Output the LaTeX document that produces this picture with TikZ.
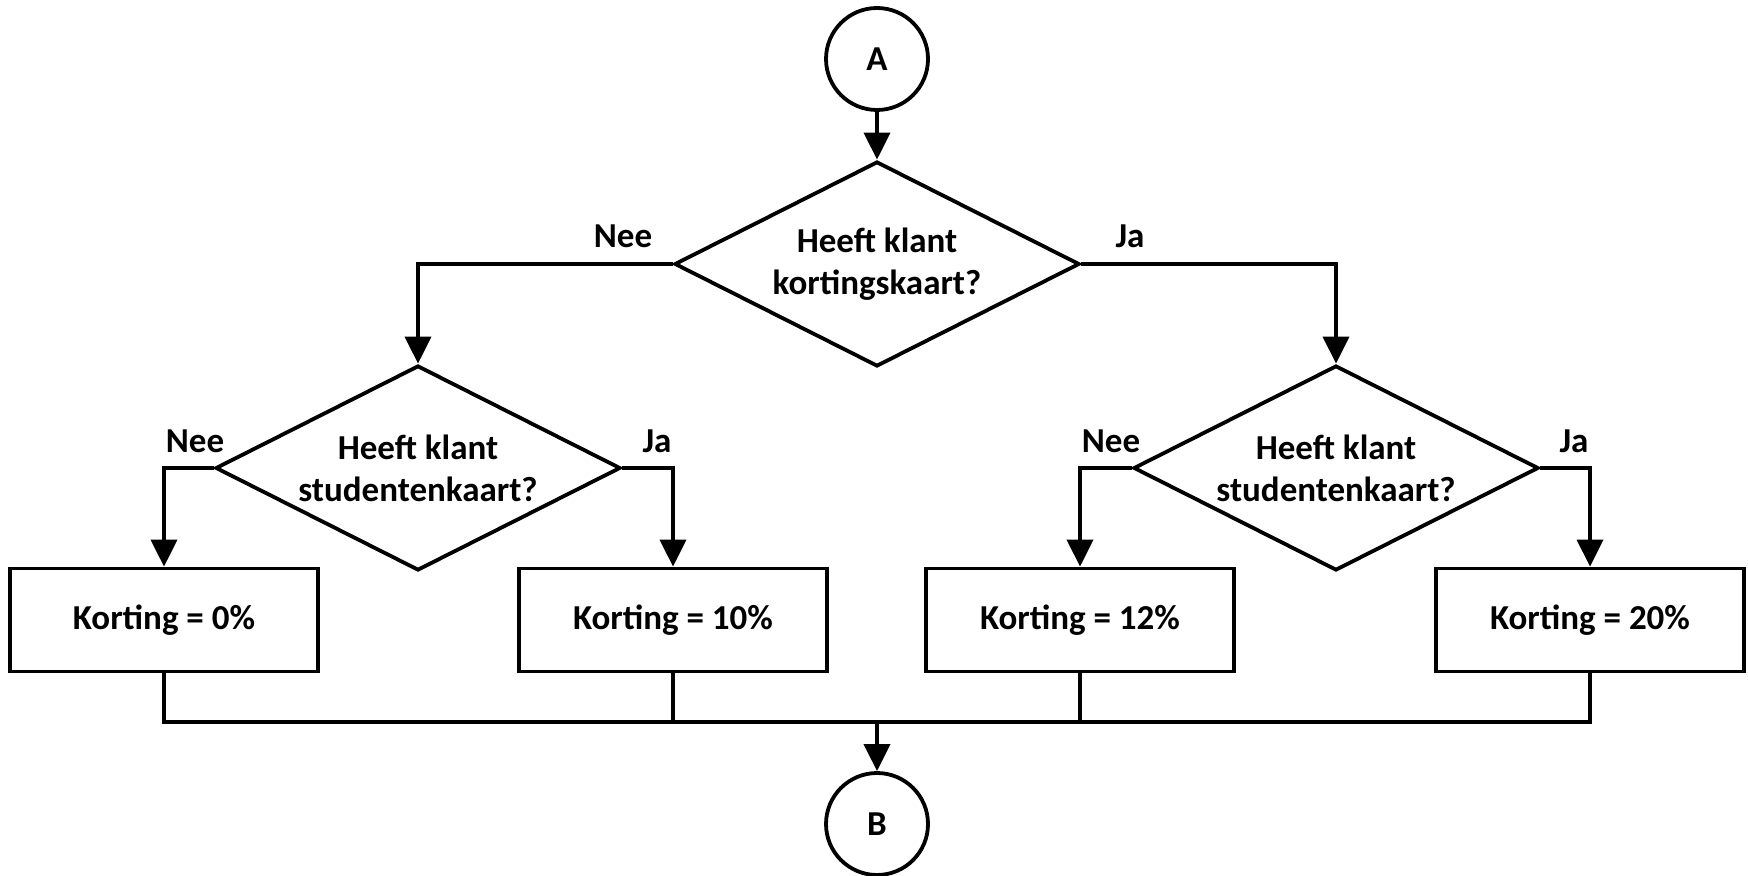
\documentclass[tikz,border=0pt]{standalone}
\usepackage{fontspec}
\setmainfont{Carlito}
\usetikzlibrary{shapes.geometric,arrows.meta}
\tikzset{
  base/.style={draw=black,line width=1.9pt,inner sep=0pt,align=center,
    font=\bfseries\fontsize{17.5}{21}\selectfont},
  decision/.style={base,diamond,shape aspect=2,minimum width=202.5pt,minimum height=102.5pt},
  procbox/.style={base,rectangle,minimum width=154pt,minimum height=51.5pt},
  connector/.style={base,circle,minimum size=51pt},
  lbl/.style={inner sep=0pt,anchor=base,font=\bfseries\fontsize{17.5}{21}\selectfont},
  line/.style={draw=black,line width=1.9pt},
  arr/.style={line,-{Triangle[length=13.5pt,width=13pt]}}
}
\begin{document}
\begin{tikzpicture}[x=0.5pt,y=-0.5pt]
\useasboundingbox (0,0) rectangle (1748,876);
\node[connector] (A) at (877,59) {A};
\node[decision] (d0) at (877,264) {Heeft klant\\kortingskaart?};
\node[decision] (d1) at (418,468) {Heeft klant\\studentenkaart?};
\node[decision] (d2) at (1336,468) {Heeft klant\\studentenkaart?};
\node[procbox] (b1) at (164,620) {Korting = 0\%};
\node[procbox] (b2) at (673,620) {Korting = 10\%};
\node[procbox] (b3) at (1080,620) {Korting = 12\%};
\node[procbox] (b4) at (1590,620) {Korting = 20\%};
\node[connector] (B) at (877,824) {B};
\coordinate (j) at (877,722);

\node[lbl] (l0n) at (623,248) {Nee};
\node[lbl] (l0j) at (1130,248) {Ja};
\node[lbl] (l1n) at (195,452) {Nee};
\node[lbl] (l1j) at (657,452) {Ja};
\node[lbl] (l2n) at (1111,452) {Nee};
\node[lbl] (l2j) at (1574,452) {Ja};

\draw[arr] (A) -- (d0);
\draw[arr] (d0.west) -| (d1.north);
\draw[arr] (d0.east) -| (d2.north);
\draw[arr] (d1.west) -| (b1.north);
\draw[arr] (d1.east) -| (b2.north);
\draw[arr] (d2.west) -| (b3.north);
\draw[arr] (d2.east) -| (b4.north);
\draw[line] (b1.south) -- (b1.south |- j) -- (b4.south |- j) -- (b4.south);
\draw[line] (b2.south) -- (b2.south |- j);
\draw[line] (b3.south) -- (b3.south |- j);
\draw[arr] (j) -- (B);
\end{tikzpicture}
\end{document}
